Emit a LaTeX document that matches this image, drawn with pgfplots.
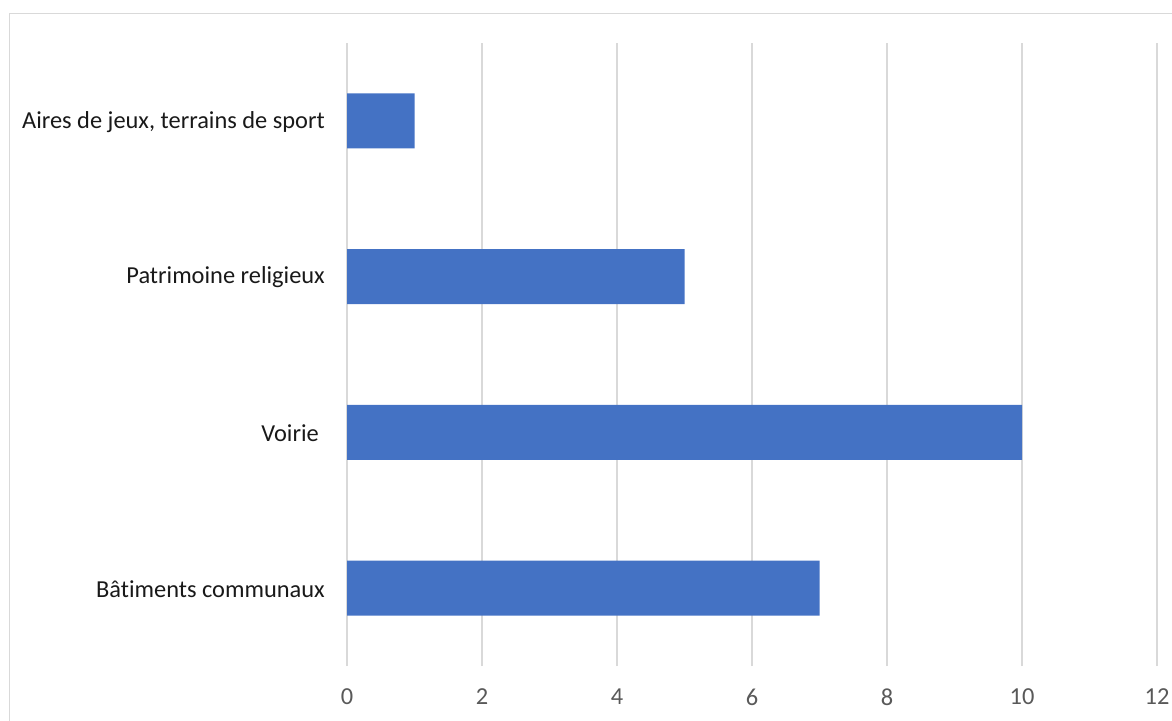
\documentclass[border=0pt]{standalone}
\usepackage{pgfplots}
\pgfplotsset{compat=1.18}
\usepackage{fontspec}
\setmainfont{Carlito}[Ligatures=NoCommon]
\definecolor{barblue}{HTML}{4472C4}
\definecolor{gridgray}{HTML}{D9D9D9}
\definecolor{ticktext}{HTML}{595959}
\begin{document}
\begin{tikzpicture}[x=1pt,y=1pt]
\path[use as bounding box] (0,0) rectangle (1172,720);
\draw[gridgray, line width=1.5pt] (9.5,-20) -- (9.5,706.5) -- (1200,706.5);
\begin{axis}[
  at={(347pt,54pt)}, anchor=south west,
  scale only axis, width=810pt, height=623pt,
  xmin=0, xmax=12, ymin=-0.5, ymax=3.5,
  xtick={0,2,4,6,8,10,12},
  ytick={0,1,2,3},
  yticklabels={Bâtiments communaux, {Voirie\kern6pt}, Patrimoine religieux, {Aires de jeux, terrains de sport}},
  axis line style={draw=none},
  major tick length=0pt,
  xmajorgrids, grid style={gridgray, line width=1.3pt},
  font=\fontsize{24.4}{29}\selectfont,
  /pgf/number format/assume math mode=true,
  xticklabel style={text=ticktext, inner sep=0pt, anchor=center, yshift=-31pt},
  yticklabel style={text=black!90, inner sep=0pt, anchor=east, xshift=-22pt, yshift=-1pt},
  clip=false,
]
\addplot[xbar, fill=barblue, draw=none, bar width=55pt] coordinates {(7,0) (10,1) (5,2) (1,3)};
\end{axis}
\end{tikzpicture}
\end{document}
